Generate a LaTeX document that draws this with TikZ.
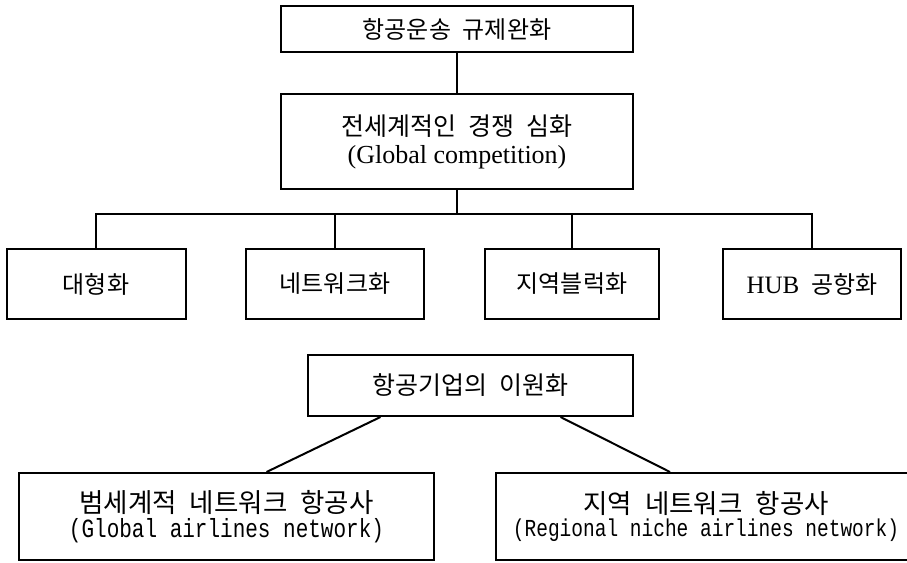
\documentclass[tikz,border=0pt]{standalone}
\usepackage{fontspec}
\setmainfont{Liberation Serif}
\setmonofont{Liberation Mono}
\newfontfamily\kor{Noto Sans CJK KR}[WordSpace=2.2]
\usepackage{tikz}

\tikzset{
  box/.style={draw, line width=2pt, inner sep=0pt, align=center},
  link/.style={line width=2pt},
  kt/.style={font=\kor\fontsize{24}{28}\selectfont}
}
% tall latin line under a korean caption
\newcommand{\latline}[2]{\scalebox{1}[1.25]{\ttfamily\fontsize{#1}{#1}\selectfont #2}}

\begin{document}
\begin{tikzpicture}[x=1pt, y=1pt]
   \useasboundingbox (0,0) rectangle (907,-562);

   % upper tree
   \node[box, kt, minimum width=352pt, minimum height=46pt] (dereg) at (457,-29) {항공운송 규제완화};
   \node[box, minimum width=352pt, minimum height=95pt] (comp) at (457,-141.5)
      {{\kor\fontsize{25}{29}\selectfont 전세계적인 경쟁 심화}\\[7pt]{\fontsize{26}{30}\selectfont (Global competition)}};
   \draw[link] (dereg) -- (comp);

   \node[box, kt, minimum width=179pt, minimum height=70pt] (big) at (96,-284) {대형화};
   \node[box, kt, minimum width=178pt, minimum height=70pt] (net) at (335,-284) {네트워크화};
   \node[box, kt, minimum width=174pt, minimum height=70pt] (bloc) at (572,-284) {지역블럭화};
   \node[box, kt, minimum width=178pt, minimum height=70pt] (hub) at (812,-284) {{\fontsize{25}{29}\selectfont\rmfamily HUB} 공항화};

   \coordinate (bus) at (457,-214);
   \draw[link] (comp.south) -- (bus);
   \draw[link] (big.north) |- (bus) -| (hub.north);
   \draw[link] (net.north) -- (net.north |- bus);
   \draw[link] (bloc.north) -- (bloc.north |- bus);

   % lower tree
   \node[box, kt, font=\kor\fontsize{25}{29}\selectfont, minimum width=325pt, minimum height=61pt] (dual) at (470.5,-385.5) {항공기업의 이원화};
   \node[box, minimum width=415pt, minimum height=87pt] (glob) at (226.5,-516.5)
      {{\kor\fontsize{26.5}{30}\selectfont 범세계적 네트워크 항공사}\\[3pt]\latline{21}{(Global airlines network)}};
   \node[box, minimum width=420pt, minimum height=87pt] (regn) at (706,-516.5)
      {{\kor\fontsize{26.5}{30}\selectfont 지역 네트워크 항공사}\\[3pt]\latline{19.5}{(Regional niche airlines network)}};
   \draw[link] ([xshift=-90pt]dual.south) -- ([xshift=40pt]glob.north);
   \draw[link] ([xshift=90pt]dual.south) -- ([xshift=-36pt]regn.north);

\end{tikzpicture}
\end{document}
